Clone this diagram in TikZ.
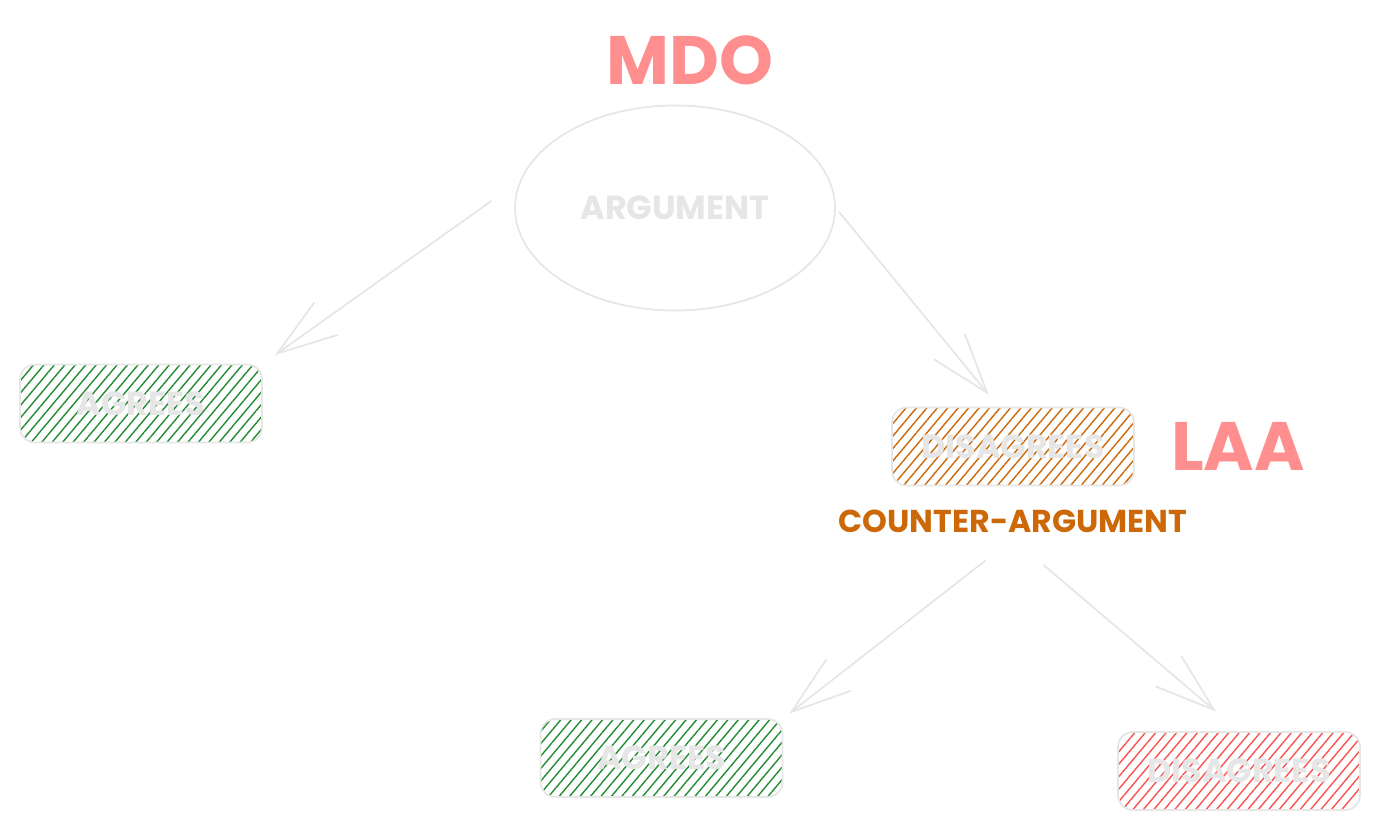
\documentclass[tikz,border=0pt]{standalone}
\usepackage{fontspec}
\setmainfont{Poppins}
\usepackage{xcolor}
\usepackage{tikz}
\usetikzlibrary{positioning,arrows.meta,shapes.geometric,patterns.meta}
\definecolor{sketchgray}{RGB}{230,230,230}
\definecolor{salmon}{RGB}{255,143,143}
\definecolor{agreegreen}{RGB}{34,140,52}
\definecolor{counterorange}{RGB}{204,104,8}
\definecolor{disagreered}{RGB}{250,82,82}
\tikzstyle{claim} = [ellipse, minimum width=6.4cm, minimum height=4.1cm, draw=sketchgray, line width=1pt, text=sketchgray, font=\fontsize{19}{19}\selectfont\bfseries]
\tikzstyle{reply} = [rectangle, rounded corners=0.3cm, minimum width=4.84cm, minimum height=1.56cm, draw=sketchgray, line width=1pt, text=sketchgray, font=\fontsize{19}{19}\selectfont\bfseries]
\tikzstyle{agrees} = [reply, pattern={Lines[angle=50,distance=0.16cm,line width=0.8pt]}, pattern color=agreegreen]
\tikzstyle{disagreesO} = [reply, pattern={Lines[angle=50,distance=0.16cm,line width=0.8pt]}, pattern color=counterorange]
\tikzstyle{disagreesR} = [reply, pattern={Lines[angle=50,distance=0.16cm,line width=0.8pt]}, pattern color=disagreered]
\tikzstyle{tag} = [text=salmon, font=\fontsize{39}{39}\selectfont\bfseries]
\tikzstyle{arrow} = [draw=sketchgray, line width=1pt, -{Straight Barb[length=1.2cm,width=0.8cm]}]

\begin{document}
\begin{tikzpicture}
	\useasboundingbox (0,0) rectangle (27.58,-16.56);
	\node[claim] (arg) at (13.5,-4.16) {ARGUMENT};
	\node[tag] (mdo) at (13.8,-1.2) {MDO};
	\node[agrees] (agree1) at (2.82,-8.07) {AGREES};
	\node[disagreesO] (disagree1) at (20.26,-8.93) {DISAGREES};
	\node[tag, right=0.6cm of disagree1] (laa) {LAA};
	\node[text=counterorange, font=\fontsize{18}{18}\selectfont\bfseries, below=0.35cm of disagree1] (ca) {COUNTER-ARGUMENT};
	\node[agrees] (agree2) at (13.23,-15.16) {AGREES};
	\node[disagreesR] (disagree2) at (24.78,-15.42) {DISAGREES};
	
	\draw[arrow, shorten <=0.7cm, shorten >=0.3cm] (arg.170) -- (agree1.north east);
	\draw[arrow, shorten <=0.1cm, shorten >=0.3cm] (arg.east) -- (disagree1.110);
	\draw[arrow, shorten <=0.7cm, shorten >=0.15cm] (ca.south) -- (agree2.north east);
	\draw[arrow, shorten <=0.8cm, shorten >=0.6cm] (ca.south) -- (disagree2.north);
\end{tikzpicture}
\end{document}
